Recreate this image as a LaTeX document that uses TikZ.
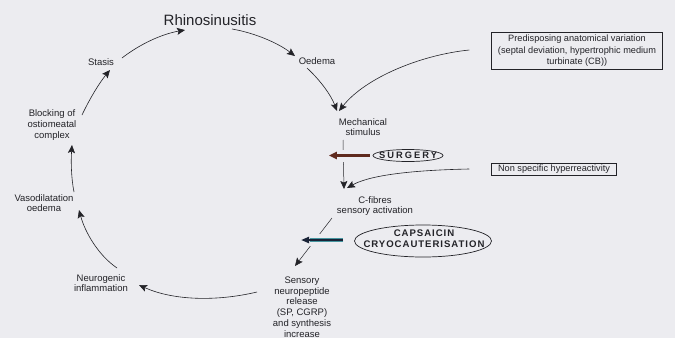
\documentclass[tikz,border=0pt]{standalone}
\usepackage{fontspec}
\setmainfont{Liberation Sans}
\newfontfamily\surgfont[LetterSpace=22]{Liberation Sans}
\newfontfamily\capsfont[LetterSpace=10]{Liberation Sans}
\usetikzlibrary{arrows.meta,calc}
\definecolor{bg}{RGB}{236,236,240}
\definecolor{ink}{RGB}{35,35,40}
\definecolor{brownarrow}{RGB}{95,42,30}
\definecolor{navyarrow}{RGB}{25,35,55}
\definecolor{tealglow}{RGB}{70,150,160}
\tikzset{
  lbl/.style={font=\fontsize{9.5}{10.7}\selectfont, text=ink, align=center, inner sep=1pt},
  boxed/.style={lbl, draw=ink, line width=0.5pt, inner sep=1.5pt},
  cyc/.style={draw=ink, line width=0.6pt, -{Stealth[length=8pt,width=7pt,inset=1.5pt]}},
  halo/.style={draw=bg, line width=12pt},
}
\begin{document}
\begin{tikzpicture}[x=1pt,y=-1pt]
\fill[bg] (0,0) rectangle (675,338);
\useasboundingbox (0,0) rectangle (675,338);

% labels
\node[lbl, font=\fontsize{15}{17}\selectfont] (rhino) at (210,20) {Rhinosinusitis};
\node[lbl] (oedema) at (317,61) {Oedema};
\node[lbl] (mech) at (363,127) {Mechanical\\stimulus};
\node[lbl] (cfib) at (375,206) {C-fibres\\sensory activation};
\node[lbl] (sens) at (302,307) {Sensory\\neuropeptide\\release\\(SP, CGRP)\\and synthesis\\increase};
\node[lbl] (neuro) at (101,283) {Neurogenic\\inflammation};
\node[lbl] (vaso) at (44,203) {Vasodilatation\\oedema};
\node[lbl] (block) at (52,125) {Blocking of\\ostiomeatal\\complex};
\node[lbl] (stasis) at (101,62) {Stasis};

\node[boxed, font=\fontsize{9.2}{11.5}\selectfont, minimum width=171pt, minimum height=37pt] (pred) at (577,51)
  {Predisposing anatomical variation\\(septal deviation, hypertrophic medium\\turbinate (CB))};
\node[boxed, font=\fontsize{9.2}{10}\selectfont, minimum width=125pt, minimum height=12pt] (nsh) at (554,169)
  {Non specific hyperreactivity};

\node[text=ink, inner sep=0pt, font=\surgfont\bfseries\fontsize{9.3}{10}\selectfont] (surg) at (408,155.5) {SURGERY};
\draw[ink, line width=0.7pt] (surg) ellipse [x radius=35, y radius=6];

\node[text=ink, inner sep=0pt, align=center, font=\capsfont\bfseries\fontsize{9.6}{10.5}\selectfont] (caps) at (424,238.5) {CAPSAICIN\\CRYOCAUTERISATION};
\draw[ink, line width=0.7pt] ($(caps)+(-1,2.5)$) ellipse [x radius=68.5, y radius=16];

% thin connectors crossed by intervention arrows
\draw[cyc, line width=0.5pt] ($(mech)+(-20,13)$) -- ($(cfib)+(-31,-17)$);
\draw[cyc, line width=0.5pt] ($(cfib)+(-43,12)$) -- ($(sens)+(-7,-41)$);

% halos and intervention arrows
\draw[halo] ($(surg.west)+(-8,0)$) -- ($(surg.west)+(-50,0)$);
\draw[brownarrow, line width=3pt, -{Triangle[length=8pt,width=7pt]}] ($(surg.west)+(-9,0)$) -- ($(surg.west)+(-50,0)$);

\draw[halo] ($(caps)+(-78,1.5)$) -- ($(caps)+(-124,1.5)$);
\draw[tealglow, line width=4.2pt] ($(caps)+(-81,1.5)$) -- ($(caps)+(-114,1.5)$);
\draw[navyarrow, line width=2.4pt, -{Triangle[length=8pt,width=6pt]}] ($(caps)+(-81,1.5)$) -- ($(caps)+(-123,1.5)$);

% cycle arrows
\draw[cyc] ($(stasis)+(21,-4)$) .. controls (140,44) and (162,34) .. ($(rhino)+(-25,10)$);
\draw[cyc] ($(rhino)+(22,9)$) .. controls (255,33) and (278,43) .. ($(oedema)+(-22,-5)$);
\draw[cyc] ($(oedema)+(-10,7)$) .. controls (320,80) and (331,95) .. ($(mech)+(-26,-16)$);
\draw[cyc] ($(pred.west)+(-22,-1)$) .. controls (420,55) and (365,78) .. ($(mech)+(-24,-16)$);
\draw[cyc] ($(nsh.west)+(-22,0)$) .. controls (420,170) and (372,174) .. ($(cfib)+(-28,-18)$);
\draw[cyc] ($(sens)+(-45,-15)$) .. controls (215,302) and (172,300) .. ($(neuro)+(38,2)$);
\draw[cyc] ($(neuro)+(16,-15)$) .. controls (98,255) and (85,232) .. ($(vaso)+(35,7)$);
\draw[cyc] ($(vaso)+(30,-11)$) .. controls (71,177) and (71,160) .. ($(block)+(20,20)$);
\draw[cyc] ($(block)+(30,-10)$) .. controls (90,98) and (100,82) .. ($(stasis)+(9,8)$);
\end{tikzpicture}
\end{document}
